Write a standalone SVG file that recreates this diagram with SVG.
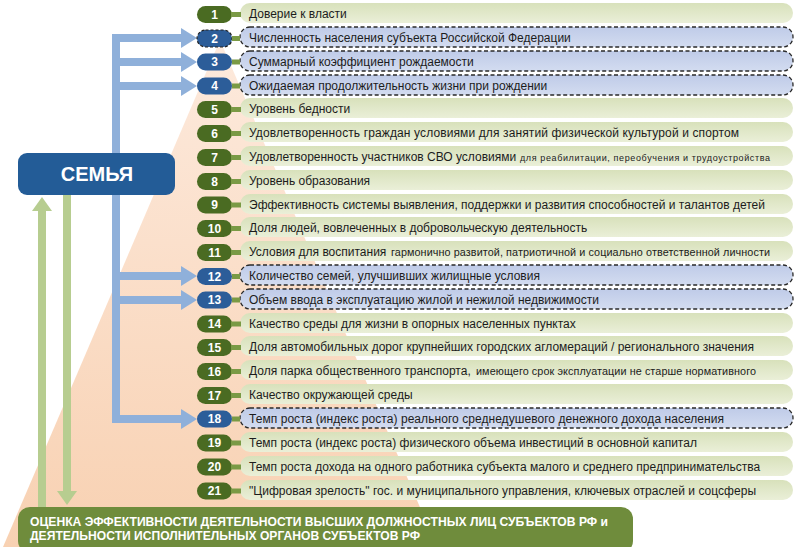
<svg xmlns="http://www.w3.org/2000/svg" width="798" height="547" viewBox="0 0 798 547">
<defs>
<linearGradient id="peach" x1="0" y1="0" x2="0" y2="1">
<stop offset="0" stop-color="#fdeadd"/>
<stop offset="1" stop-color="#f8d1b2"/>
</linearGradient>
<linearGradient id="gbox" x1="0" y1="0" x2="0" y2="1">
<stop offset="0" stop-color="#d8e1bb"/>
<stop offset="1" stop-color="#eaefd8"/>
</linearGradient>
<linearGradient id="bbox" x1="0" y1="0" x2="0" y2="1">
<stop offset="0" stop-color="#bfcbe8"/>
<stop offset="1" stop-color="#d3dcf0"/>
</linearGradient>
<marker id="blueArrow" markerUnits="userSpaceOnUse" markerWidth="16" markerHeight="20" refX="0" refY="10" orient="auto">
<path d="M0,0 L16,10 L0,20 Z" fill="#8fb0da"/>
</marker>
<marker id="greenArrow" markerUnits="userSpaceOnUse" markerWidth="14" markerHeight="20" refX="0" refY="10" orient="auto">
<path d="M0,0 L14,10 L0,20 Z" fill="#b7cd90"/>
</marker>
</defs>
<style>
.gbadge{fill:#4a6b22}
.bbadge{fill:#2c5d99}
.num{font-family:"Liberation Sans",Arial,sans-serif;font-size:12px;font-weight:bold;fill:#fff;text-anchor:middle}
.tie{fill:#7a9a45}
.gbox{fill:url(#gbox)}
.bbox{fill:url(#bbox);stroke:#2a2a2a;stroke-width:1.3;stroke-dasharray:4 2.5}
.t{font-family:"Liberation Sans",Arial,sans-serif;font-size:12px;fill:#1c1c1c}
.s{font-size:9px}
.m{font-size:10.8px}
.blue{stroke:#8fb0da;stroke-width:8;fill:none}
.green{stroke:#b7cd90;stroke-width:8;fill:none}
.head{font-family:"Liberation Sans",Arial,sans-serif;font-weight:bold;fill:#fff}
</style>
<rect width="798" height="547" fill="#ffffff"/>
<polygon points="220,40 3,547 437,547" fill="url(#peach)"/>

<g id="connectors">
<path class="blue" d="M116,34 V423"/>
<path class="blue" d="M112,38 H181" marker-end="url(#blueArrow)"/>
<path class="blue" d="M112,62 H181" marker-end="url(#blueArrow)"/>
<path class="blue" d="M112,86 H181" marker-end="url(#blueArrow)"/>
<path class="blue" d="M112,276 H181" marker-end="url(#blueArrow)"/>
<path class="blue" d="M112,300 H181" marker-end="url(#blueArrow)"/>
<path class="blue" d="M112,419 H181" marker-end="url(#blueArrow)"/>
<path class="green" d="M42,508 V211" marker-end="url(#greenArrow)"/>
<path class="green" d="M67,195 V491" marker-end="url(#greenArrow)"/>
</g>

<g id="semya">
<rect x="18" y="153" width="157" height="42" rx="9" fill="#235c97"/>
<text class="head" x="97" y="181" font-size="20" text-anchor="middle">СЕМЬЯ</text>
</g>

<g id="row-1"><rect class="gbox" x="240" y="3" width="553" height="20" rx="10"/><rect class="gbadge" x="197" y="6" width="35" height="17" rx="8.5"/><rect class="tie" x="231" y="12" width="10" height="5"/><text class="num" x="214.5" y="18.5">1</text><text class="t" x="249" y="18">Доверие к власти</text></g>
<g id="row-2"><rect class="bbox" x="240" y="27" width="553" height="20" rx="10"/><rect class="bbadge" x="197" y="30" width="35" height="17" rx="8.5" stroke="#222" stroke-width="1.2" stroke-dasharray="3 2"/><rect class="tie" x="232" y="36" width="8" height="5"/><text class="num" x="214.5" y="42.5">2</text><text class="t" x="249" y="42">Численность населения субъекта Российской Федерации</text></g>
<g id="row-3"><rect class="bbox" x="240" y="51" width="553" height="20" rx="10"/><rect class="bbadge" x="197" y="53.5" width="35" height="17" rx="8.5"/><rect class="tie" x="232" y="59.5" width="8" height="5"/><text class="num" x="214.5" y="66">3</text><text class="t" x="249" y="66">Суммарный коэффициент рождаемости</text></g>
<g id="row-4"><rect class="bbox" x="240" y="75" width="553" height="20" rx="10"/><rect class="bbadge" x="197" y="77.5" width="35" height="17" rx="8.5"/><rect class="tie" x="232" y="83.5" width="8" height="5"/><text class="num" x="214.5" y="90">4</text><text class="t" x="249" y="90">Ожидаемая продолжительность жизни при рождении</text></g>
<g id="row-5"><rect class="gbox" x="240" y="98" width="553" height="20" rx="10"/><rect class="gbadge" x="197" y="101" width="35" height="17" rx="8.5"/><rect class="tie" x="231" y="107" width="10" height="5"/><text class="num" x="214.5" y="113.5">5</text><text class="t" x="249" y="113">Уровень бедности</text></g>
<g id="row-6"><rect class="gbox" x="240" y="122" width="553" height="20" rx="10"/><rect class="gbadge" x="197" y="125" width="35" height="17" rx="8.5"/><rect class="tie" x="231" y="131" width="10" height="5"/><text class="num" x="214.5" y="137.5">6</text><text class="t" x="249" y="137" textLength="490" lengthAdjust="spacing">Удовлетворенность граждан условиями для занятий физической культурой и спортом</text></g>
<g id="row-7"><rect class="gbox" x="240" y="146" width="553" height="20" rx="10"/><rect class="gbadge" x="197" y="149" width="35" height="17" rx="8.5"/><rect class="tie" x="231" y="155" width="10" height="5"/><text class="num" x="214.5" y="161.5">7</text><text class="t" x="249" y="161">Удовлетворенность участников СВО условиями</text><text class="t s" x="520" y="161" textLength="250" lengthAdjust="spacing">для реабилитации, переобучения и трудоустройства</text></g>
<g id="row-8"><rect class="gbox" x="240" y="170" width="553" height="20" rx="10"/><rect class="gbadge" x="197" y="173" width="35" height="17" rx="8.5"/><rect class="tie" x="231" y="179" width="10" height="5"/><text class="num" x="214.5" y="185.5">8</text><text class="t" x="249" y="185">Уровень образования</text></g>
<g id="row-9"><rect class="gbox" x="240" y="194" width="553" height="20" rx="10"/><rect class="gbadge" x="197" y="196.5" width="35" height="17" rx="8.5"/><rect class="tie" x="231" y="202.5" width="10" height="5"/><text class="num" x="214.5" y="209">9</text><text class="t" x="249" y="209">Эффективность системы выявления, поддержки и развития способностей и талантов детей</text></g>
<g id="row-10"><rect class="gbox" x="240" y="217" width="553" height="20" rx="10"/><rect class="gbadge" x="197" y="220" width="35" height="17" rx="8.5"/><rect class="tie" x="231" y="226" width="10" height="5"/><text class="num" x="214.5" y="232.5">10</text><text class="t" x="249" y="232">Доля людей, вовлеченных в добровольческую деятельность</text></g>
<g id="row-11"><rect class="gbox" x="240" y="241" width="553" height="20" rx="10"/><rect class="gbadge" x="197" y="244" width="35" height="17" rx="8.5"/><rect class="tie" x="231" y="250" width="10" height="5"/><text class="num" x="214.5" y="256.5">11</text><text class="t" x="249" y="256">Условия для воспитания</text><text class="t m" x="391" y="256" textLength="379" lengthAdjust="spacing">гармонично развитой, патриотичной и социально ответственной личности</text></g>
<g id="row-12"><rect class="bbox" x="240" y="265" width="553" height="20" rx="10"/><rect class="bbadge" x="197" y="268" width="35" height="17" rx="8.5"/><rect class="tie" x="232" y="274" width="8" height="5"/><text class="num" x="214.5" y="280.5">12</text><text class="t" x="249" y="280">Количество семей, улучшивших жилищные условия</text></g>
<g id="row-13"><rect class="bbox" x="240" y="289" width="553" height="20" rx="10"/><rect class="bbadge" x="197" y="291.5" width="35" height="17" rx="8.5"/><rect class="tie" x="232" y="297.5" width="8" height="5"/><text class="num" x="214.5" y="304">13</text><text class="t" x="249" y="304">Объем ввода в эксплуатацию жилой и нежилой недвижимости</text></g>
<g id="row-14"><rect class="gbox" x="240" y="313" width="553" height="20" rx="10"/><rect class="gbadge" x="197" y="315.5" width="35" height="17" rx="8.5"/><rect class="tie" x="231" y="321.5" width="10" height="5"/><text class="num" x="214.5" y="328">14</text><text class="t" x="249" y="328">Качество среды для жизни в опорных населенных пунктах</text></g>
<g id="row-15"><rect class="gbox" x="240" y="336" width="553" height="20" rx="10"/><rect class="gbadge" x="197" y="339" width="35" height="17" rx="8.5"/><rect class="tie" x="231" y="345" width="10" height="5"/><text class="num" x="214.5" y="351.5">15</text><text class="t" x="249" y="351">Доля автомобильных дорог крупнейших городских агломераций / регионального значения</text></g>
<g id="row-16"><rect class="gbox" x="240" y="360" width="553" height="20" rx="10"/><rect class="gbadge" x="197" y="363" width="35" height="17" rx="8.5"/><rect class="tie" x="231" y="369" width="10" height="5"/><text class="num" x="214.5" y="375.5">16</text><text class="t" x="249" y="375">Доля парка общественного транспорта,</text><text class="t m" x="476" y="375" textLength="280" lengthAdjust="spacing">имеющего срок эксплуатации не старше нормативного</text></g>
<g id="row-17"><rect class="gbox" x="240" y="384" width="553" height="20" rx="10"/><rect class="gbadge" x="197" y="387" width="35" height="17" rx="8.5"/><rect class="tie" x="231" y="393" width="10" height="5"/><text class="num" x="214.5" y="399.5">17</text><text class="t" x="249" y="399">Качество окружающей среды</text></g>
<g id="row-18"><rect class="bbox" x="240" y="408" width="553" height="20" rx="10"/><rect class="bbadge" x="197" y="410.5" width="35" height="17" rx="8.5"/><rect class="tie" x="232" y="416.5" width="8" height="5"/><text class="num" x="214.5" y="423">18</text><text class="t" x="249" y="423" textLength="475" lengthAdjust="spacing">Темп роста (индекс роста) реального среднедушевого денежного дохода населения</text></g>
<g id="row-19"><rect class="gbox" x="240" y="432" width="553" height="20" rx="10"/><rect class="gbadge" x="197" y="434.5" width="35" height="17" rx="8.5"/><rect class="tie" x="231" y="440.5" width="10" height="5"/><text class="num" x="214.5" y="447">19</text><text class="t" x="249" y="447">Темп роста (индекс роста) физического объема инвестиций в основной капитал</text></g>
<g id="row-20"><rect class="gbox" x="240" y="456" width="553" height="20" rx="10"/><rect class="gbadge" x="197" y="458.5" width="35" height="17" rx="8.5"/><rect class="tie" x="231" y="464.5" width="10" height="5"/><text class="num" x="214.5" y="471">20</text><text class="t" x="249" y="471">Темп роста дохода на одного работника субъекта малого и среднего предпринимательства</text></g>
<g id="row-21"><rect class="gbox" x="240" y="480" width="553" height="20" rx="10"/><rect class="gbadge" x="197" y="482.5" width="35" height="17" rx="8.5"/><rect class="tie" x="231" y="488.5" width="10" height="5"/><text class="num" x="214.5" y="495">21</text><text class="t" x="249" y="495" textLength="507" lengthAdjust="spacing">"Цифровая зрелость" гос. и муниципального управления, ключевых отраслей и соцсферы</text></g>

<g id="assessment">
<rect x="18" y="507" width="615" height="46" rx="12" fill="#6f8c3c"/>
<text class="head" x="30" y="526" font-size="12.5" textLength="578" lengthAdjust="spacingAndGlyphs">ОЦЕНКА ЭФФЕКТИВНОСТИ ДЕЯТЕЛЬНОСТИ ВЫСШИХ ДОЛЖНОСТНЫХ ЛИЦ СУБЪЕКТОВ РФ и</text>
<text class="head" x="30" y="540" font-size="12.5" textLength="390" lengthAdjust="spacingAndGlyphs">ДЕЯТЕЛЬНОСТИ ИСПОЛНИТЕЛЬНЫХ ОРГАНОВ СУБЪЕКТОВ РФ</text>
</g>
</svg>
